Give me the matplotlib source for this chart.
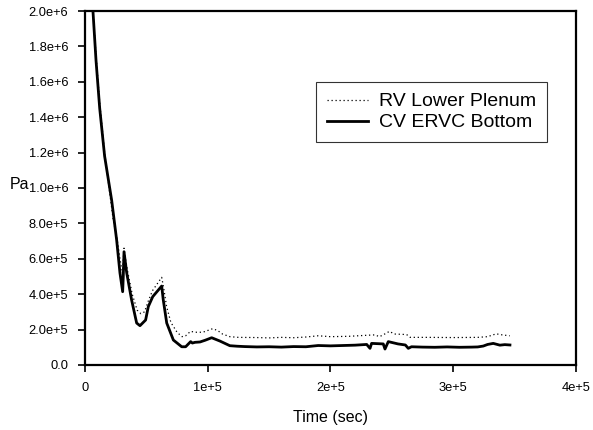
import matplotlib
matplotlib.use("Agg")
import matplotlib.pyplot as plt

plt.rcParams['font.family'] = ['Liberation Sans', 'DejaVu Sans']

# Time (s) and pressure (Pa) for the reactor vessel lower plenum
rv_time = [0, 6500, 9000, 12000, 16000, 20000, 23000, 26000, 28500, 30500, 31800,
           33000, 35000, 38500, 42500, 45500, 48500, 51500, 55000, 59000, 62500,
           64000, 66500, 70000, 75000, 79000, 82000, 86000, 90000, 96000, 100000,
           104000, 108000, 112000, 118000, 125000, 140000, 150000, 160000, 170000,
           180000, 190000, 200000, 215000, 230000, 236000, 240000, 245000, 248000,
           252000, 262000, 265000, 280000, 300000, 320000, 328000, 335000, 340000,
           346000]
rv_pa = [2.9e6, 2.0e6, 1.75e6, 1.48e6, 1.2e6, 0.98e6, 0.82e6, 0.72e6, 0.6e6, 0.52e6,
         0.66e6, 0.6e6, 0.52e6, 0.4e6, 0.31e6, 0.29e6, 0.3e6, 0.36e6, 0.42e6, 0.46e6,
         0.495e6, 0.44e6, 0.33e6, 0.24e6, 0.185e6, 0.16e6, 0.165e6, 0.19e6, 0.185e6,
         0.185e6, 0.195e6, 0.205e6, 0.195e6, 0.175e6, 0.16e6, 0.156e6, 0.155e6,
         0.153e6, 0.156e6, 0.154e6, 0.158e6, 0.165e6, 0.16e6, 0.162e6, 0.168e6,
         0.17e6, 0.16e6, 0.178e6, 0.19e6, 0.175e6, 0.172e6, 0.156e6, 0.156e6,
         0.155e6, 0.156e6, 0.16e6, 0.176e6, 0.17e6, 0.165e6]

# Time (s) and pressure (Pa) at the containment ERVC bottom
cv_time = [0, 6500, 9000, 12000, 16000, 21750, 25800, 28500, 30700, 31200, 31800,
           34000, 38000, 42100, 44800, 49400, 51600, 55200, 62500, 63800, 66600,
           72000, 78800, 82000, 86100, 87500, 89600, 93700, 98000, 103200, 110000,
           118000, 124000, 130000, 140000, 150000, 160000, 170000, 180000, 190000,
           200000, 210000, 220000, 229500, 232200, 233500, 243000, 244400, 247100,
           255000, 261000, 263400, 266000, 275000, 285000, 295000, 305000, 315000,
           320000, 324500, 328000, 332600, 338000, 342000, 346200]
cv_pa = [2.9e6, 2.0e6, 1.72e6, 1.45e6, 1.18e6, 0.93e6, 0.706e6, 0.52e6, 0.414e6,
         0.5e6, 0.64e6, 0.52e6, 0.367e6, 0.237e6, 0.222e6, 0.254e6, 0.33e6, 0.386e6,
         0.446e6, 0.367e6, 0.237e6, 0.141e6, 0.103e6, 0.103e6, 0.132e6, 0.124e6,
         0.128e6, 0.13e6, 0.14e6, 0.154e6, 0.135e6, 0.109e6, 0.106e6, 0.104e6,
         0.102e6, 0.103e6, 0.101e6, 0.104e6, 0.103e6, 0.11e6, 0.108e6, 0.11e6,
         0.112e6, 0.116e6, 0.094e6, 0.122e6, 0.119e6, 0.09e6, 0.132e6, 0.119e6,
         0.113e6, 0.094e6, 0.103e6, 0.101e6, 0.1e6, 0.102e6, 0.1e6, 0.101e6,
         0.102e6, 0.107e6, 0.116e6, 0.122e6, 0.112e6, 0.115e6, 0.113e6]

y_ticks = [0, 2e5, 4e5, 6e5, 8e5, 1e6, 1.2e6, 1.4e6, 1.6e6, 1.8e6, 2e6]
y_labels = ['0.0', '2.0e+5', '4.0e+5', '6.0e+5', '8.0e+5', '1.0e+6',
            '1.2e+6', '1.4e+6', '1.6e+6', '1.8e+6', '2.0e+6']
x_ticks = [0, 1e5, 2e5, 3e5, 4e5]
x_labels = ['0', '1e+5', '2e+5', '3e+5', '4e+5']

fig = plt.figure(figsize=(5.93, 4.30), dpi=100)
ax = fig.add_axes([0.1433, 0.1512, 0.828, 0.8232])

ax.plot(rv_time, rv_pa, color='black', linestyle=(0, (1, 2.2)), linewidth=0.9,
        label='RV Lower Plenum')
ax.plot(cv_time, cv_pa, color='black', linestyle='-', linewidth=2.0,
        label='CV ERVC Bottom')

ax.set_xlim(0, 4e5)
ax.set_ylim(0, 2e6)
ax.set_xticks(x_ticks)
ax.set_xticklabels(x_labels)
ax.set_yticks(y_ticks)
ax.set_yticklabels(y_labels)
ax.tick_params(direction='out', length=5, width=1.2, labelsize=9.3, colors='black')
ax.tick_params(axis='x', pad=7)
ax.tick_params(axis='y', pad=7)

for sp in ax.spines.values():
    sp.set_linewidth(1.6)

ax.set_xlabel('Time (sec)', fontsize=11.5, labelpad=12)
fig.text(10 / 593, 1 - 184 / 430, 'Pa', fontsize=11.5, ha='left', va='center')

leg = ax.legend(loc='upper left', bbox_to_anchor=(0.4705, 0.7994), fontsize=14,
                frameon=True, fancybox=False, edgecolor='black', handlelength=2.15,
                borderpad=0.55, labelspacing=0.18, handletextpad=0.55,
                borderaxespad=0)
leg.get_frame().set_linewidth(0.8)

fig.savefig('out.png', dpi=100)
